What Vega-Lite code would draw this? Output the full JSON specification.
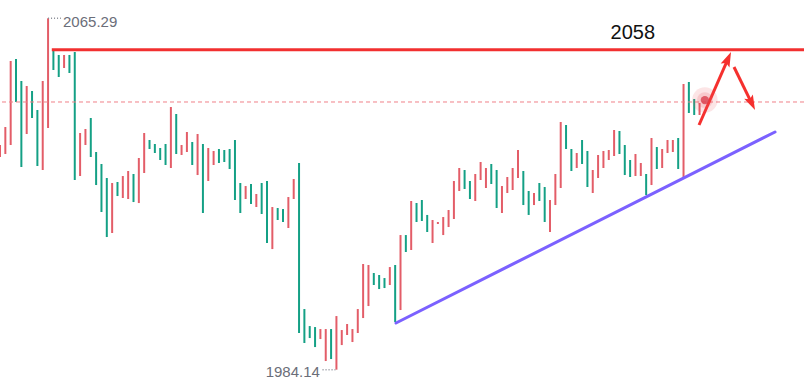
{
  "$schema": "https://vega.github.io/schema/vega-lite/v6.json",
  "width": 804,
  "height": 392,
  "padding": 0,
  "autosize": {"type": "none"},
  "background": "white",
  "config": {"view": {"stroke": null}},
  "datasets": {
    "candles": [
      {"i":1,"hi":2036.02,"lo":2033.25,"d":"up"},
      {"i":2,"hi":2040.18,"lo":2033.95,"d":"up"},
      {"i":3,"hi":2055.43,"lo":2036.02,"d":"up"},
      {"i":4,"hi":2055.89,"lo":2045.96,"d":"down"},
      {"i":5,"hi":2050.81,"lo":2030.94,"d":"down"},
      {"i":6,"hi":2049.65,"lo":2038.57,"d":"up"},
      {"i":7,"hi":2048.50,"lo":2042.26,"d":"down"},
      {"i":8,"hi":2044.11,"lo":2031.17,"d":"down"},
      {"i":9,"hi":2050.81,"lo":2030.25,"d":"up"},
      {"i":10,"hi":2065.29,"lo":2039.95,"d":"up"},
      {"i":11,"hi":2057.74,"lo":2053.35,"d":"down"},
      {"i":12,"hi":2056.82,"lo":2051.73,"d":"down"},
      {"i":13,"hi":2056.82,"lo":2053.81,"d":"up"},
      {"i":14,"hi":2056.82,"lo":2052.66,"d":"down"},
      {"i":15,"hi":2057.51,"lo":2027.94,"d":"down"},
      {"i":16,"hi":2038.80,"lo":2028.86,"d":"up"},
      {"i":17,"hi":2039.72,"lo":2036.02,"d":"up"},
      {"i":18,"hi":2042.26,"lo":2033.25,"d":"down"},
      {"i":19,"hi":2034.41,"lo":2026.78,"d":"down"},
      {"i":20,"hi":2031.64,"lo":2020.55,"d":"down"},
      {"i":21,"hi":2028.40,"lo":2014.77,"d":"down"},
      {"i":22,"hi":2027.25,"lo":2015.70,"d":"up"},
      {"i":23,"hi":2027.48,"lo":2024.24,"d":"down"},
      {"i":24,"hi":2028.86,"lo":2023.78,"d":"up"},
      {"i":25,"hi":2030.02,"lo":2023.55,"d":"up"},
      {"i":26,"hi":2029.33,"lo":2022.85,"d":"down"},
      {"i":27,"hi":2033.02,"lo":2022.62,"d":"up"},
      {"i":28,"hi":2038.80,"lo":2029.56,"d":"up"},
      {"i":29,"hi":2037.18,"lo":2035.10,"d":"down"},
      {"i":30,"hi":2036.26,"lo":2034.18,"d":"down"},
      {"i":31,"hi":2035.33,"lo":2032.56,"d":"down"},
      {"i":32,"hi":2036.26,"lo":2031.40,"d":"down"},
      {"i":33,"hi":2044.80,"lo":2030.71,"d":"up"},
      {"i":34,"hi":2043.19,"lo":2033.95,"d":"down"},
      {"i":35,"hi":2036.02,"lo":2033.72,"d":"up"},
      {"i":36,"hi":2039.03,"lo":2034.41,"d":"up"},
      {"i":37,"hi":2036.72,"lo":2031.40,"d":"down"},
      {"i":38,"hi":2038.57,"lo":2029.09,"d":"up"},
      {"i":39,"hi":2036.26,"lo":2020.32,"d":"down"},
      {"i":40,"hi":2035.33,"lo":2027.71,"d":"up"},
      {"i":41,"hi":2034.64,"lo":2031.40,"d":"up"},
      {"i":42,"hi":2035.10,"lo":2031.87,"d":"down"},
      {"i":43,"hi":2034.87,"lo":2032.10,"d":"down"},
      {"i":44,"hi":2035.10,"lo":2030.48,"d":"down"},
      {"i":45,"hi":2037.18,"lo":2023.32,"d":"down"},
      {"i":46,"hi":2027.25,"lo":2020.32,"d":"down"},
      {"i":47,"hi":2026.55,"lo":2023.55,"d":"up"},
      {"i":48,"hi":2027.02,"lo":2022.40,"d":"down"},
      {"i":49,"hi":2024.71,"lo":2021.70,"d":"up"},
      {"i":50,"hi":2027.25,"lo":2020.09,"d":"down"},
      {"i":51,"hi":2027.71,"lo":2013.39,"d":"down"},
      {"i":52,"hi":2021.70,"lo":2011.99,"d":"up"},
      {"i":53,"hi":2021.47,"lo":2018.70,"d":"down"},
      {"i":54,"hi":2021.24,"lo":2018.24,"d":"down"},
      {"i":55,"hi":2024.01,"lo":2016.85,"d":"up"},
      {"i":56,"hi":2028.17,"lo":2023.55,"d":"up"},
      {"i":57,"hi":2031.87,"lo":1992.60,"d":"down"},
      {"i":58,"hi":1998.14,"lo":1990.29,"d":"down"},
      {"i":59,"hi":1994.21,"lo":1991.44,"d":"down"},
      {"i":60,"hi":1993.98,"lo":1989.36,"d":"down"},
      {"i":61,"hi":1993.52,"lo":1991.21,"d":"up"},
      {"i":62,"hi":1993.52,"lo":1986.13,"d":"up"},
      {"i":63,"hi":1993.52,"lo":1986.59,"d":"down"},
      {"i":64,"hi":1996.52,"lo":1984.14,"d":"up"},
      {"i":65,"hi":1993.29,"lo":1989.82,"d":"up"},
      {"i":66,"hi":1994.68,"lo":1992.14,"d":"up"},
      {"i":67,"hi":1993.52,"lo":1990.52,"d":"up"},
      {"i":68,"hi":1998.14,"lo":1992.60,"d":"up"},
      {"i":69,"hi":2008.54,"lo":1996.06,"d":"up"},
      {"i":70,"hi":2008.31,"lo":1998.83,"d":"up"},
      {"i":71,"hi":2006.46,"lo":2003.69,"d":"down"},
      {"i":72,"hi":2006.00,"lo":2002.76,"d":"down"},
      {"i":73,"hi":2005.30,"lo":2002.99,"d":"down"},
      {"i":74,"hi":2007.84,"lo":2003.69,"d":"up"},
      {"i":75,"hi":2008.31,"lo":1995.14,"d":"down"},
      {"i":76,"hi":2015.23,"lo":1997.91,"d":"up"},
      {"i":77,"hi":2015.23,"lo":2011.31,"d":"down"},
      {"i":78,"hi":2023.09,"lo":2011.77,"d":"up"},
      {"i":79,"hi":2022.63,"lo":2018.24,"d":"down"},
      {"i":80,"hi":2023.32,"lo":2018.47,"d":"down"},
      {"i":81,"hi":2019.87,"lo":2015.93,"d":"down"},
      {"i":82,"hi":2018.70,"lo":2013.39,"d":"up"},
      {"i":83,"hi":2018.24,"lo":2017.78,"d":"up"},
      {"i":84,"hi":2019.39,"lo":2015.23,"d":"up"},
      {"i":85,"hi":2021.01,"lo":2017.08,"d":"up"},
      {"i":86,"hi":2027.71,"lo":2018.93,"d":"up"},
      {"i":87,"hi":2030.71,"lo":2025.40,"d":"up"},
      {"i":88,"hi":2030.25,"lo":2025.86,"d":"down"},
      {"i":89,"hi":2027.71,"lo":2023.55,"d":"down"},
      {"i":90,"hi":2029.33,"lo":2023.09,"d":"up"},
      {"i":91,"hi":2032.10,"lo":2027.94,"d":"up"},
      {"i":92,"hi":2030.71,"lo":2026.09,"d":"up"},
      {"i":93,"hi":2031.64,"lo":2027.02,"d":"down"},
      {"i":94,"hi":2030.25,"lo":2021.47,"d":"down"},
      {"i":95,"hi":2026.55,"lo":2020.32,"d":"up"},
      {"i":96,"hi":2028.63,"lo":2024.94,"d":"up"},
      {"i":97,"hi":2030.71,"lo":2025.63,"d":"up"},
      {"i":98,"hi":2034.87,"lo":2028.40,"d":"up"},
      {"i":99,"hi":2030.02,"lo":2022.16,"d":"down"},
      {"i":100,"hi":2025.40,"lo":2019.87,"d":"down"},
      {"i":101,"hi":2024.94,"lo":2022.16,"d":"up"},
      {"i":102,"hi":2027.25,"lo":2023.09,"d":"down"},
      {"i":103,"hi":2026.32,"lo":2018.24,"d":"down"},
      {"i":104,"hi":2023.32,"lo":2015.93,"d":"up"},
      {"i":105,"hi":2029.33,"lo":2022.16,"d":"up"},
      {"i":106,"hi":2041.34,"lo":2026.09,"d":"up"},
      {"i":107,"hi":2040.65,"lo":2035.10,"d":"down"},
      {"i":108,"hi":2035.10,"lo":2030.02,"d":"down"},
      {"i":109,"hi":2034.18,"lo":2030.71,"d":"up"},
      {"i":110,"hi":2037.18,"lo":2031.64,"d":"down"},
      {"i":111,"hi":2034.64,"lo":2026.32,"d":"down"},
      {"i":112,"hi":2030.25,"lo":2024.94,"d":"up"},
      {"i":113,"hi":2033.72,"lo":2028.40,"d":"up"},
      {"i":114,"hi":2034.64,"lo":2030.71,"d":"up"},
      {"i":115,"hi":2034.87,"lo":2032.56,"d":"up"},
      {"i":116,"hi":2039.49,"lo":2033.48,"d":"up"},
      {"i":117,"hi":2039.26,"lo":2033.95,"d":"down"},
      {"i":118,"hi":2036.02,"lo":2029.09,"d":"down"},
      {"i":119,"hi":2032.56,"lo":2028.63,"d":"down"},
      {"i":120,"hi":2033.95,"lo":2028.86,"d":"up"},
      {"i":121,"hi":2031.87,"lo":2028.86,"d":"up"},
      {"i":122,"hi":2029.33,"lo":2024.47,"d":"down"},
      {"i":123,"hi":2037.64,"lo":2026.78,"d":"up"},
      {"i":124,"hi":2035.56,"lo":2030.48,"d":"down"},
      {"i":125,"hi":2035.10,"lo":2030.71,"d":"up"},
      {"i":126,"hi":2037.18,"lo":2034.18,"d":"up"},
      {"i":127,"hi":2037.18,"lo":2034.41,"d":"up"},
      {"i":128,"hi":2037.64,"lo":2030.48,"d":"down"},
      {"i":129,"hi":2050.12,"lo":2028.40,"d":"up"},
      {"i":130,"hi":2050.58,"lo":2043.42,"d":"down"},
      {"i":131,"hi":2046.65,"lo":2042.96,"d":"down"},
      {"i":132,"hi":2045.73,"lo":2042.96,"d":"up"}
    ]
  },
  "layer": [
    {
      "data": {"name": "candles"},
      "mark": {"type": "rule", "strokeWidth": 2},
      "encoding": {
        "x": {"field": "i", "type": "quantitative", "scale": {"domain": [1, 151.56], "nice": false, "zero": false},
              "axis": {"values": [24.91, 70.9, 117.14], "grid": true, "gridColor": "#edeff3", "gridWidth": 1.5, "labels": false, "ticks": false, "domain": false, "title": null}},
        "y": {"field": "hi", "type": "quantitative", "scale": {"domain": [1978.98, 2069.515], "nice": false, "zero": false},
              "axis": {"values": [2000, 2025, 2050], "grid": true, "gridColor": "#edeff3", "gridWidth": 1.5, "labels": false, "ticks": false, "domain": false, "title": null}},
        "y2": {"field": "lo"},
        "color": {"field": "d", "type": "nominal", "scale": {"domain": ["up", "down"], "range": ["#e35d68", "#14a085"]}, "legend": null}
      }
    },
    {
      "data": {"values": [{"p": 2045.96}]},
      "mark": {"type": "rule", "strokeDash": [4, 3], "strokeWidth": 1, "color": "#f08088"},
      "encoding": {
        "y": {"field": "p", "type": "quantitative", "scale": {"domain": [1978.98, 2069.515], "nice": false, "zero": false}, "axis": null}
      }
    },
    {
      "data": {"values": [{"i0": 10.7, "i1": 151.56, "p": 2058}]},
      "mark": {"type": "rule", "strokeWidth": 3, "color": "#f23030"},
      "encoding": {
        "x": {"field": "i0", "type": "quantitative", "scale": {"domain": [1, 151.56], "nice": false, "zero": false}, "axis": null},
        "x2": {"field": "i1"},
        "y": {"field": "p", "type": "quantitative", "scale": {"domain": [1978.98, 2069.515], "nice": false, "zero": false}, "axis": null}
      }
    },
    {
      "data": {"values": [{"i0": 75.16, "p0": 1994.92, "i1": 146.13, "p1": 2039.03}]},
      "mark": {"type": "rule", "strokeWidth": 3, "color": "#7b61ff", "strokeCap": "round"},
      "encoding": {
        "x": {"field": "i0", "type": "quantitative", "scale": {"domain": [1, 151.56], "nice": false, "zero": false}, "axis": null},
        "x2": {"field": "i1"},
        "y": {"field": "p0", "type": "quantitative", "scale": {"domain": [1978.98, 2069.515], "nice": false, "zero": false}, "axis": null},
        "y2": {"field": "p1"}
      }
    },
    {
      "data": {"values": [{"i0": 131.9, "p0": 2040.65, "i1": 137.29, "p1": 2055.82}, {"i0": 138.45, "p0": 2054.04, "i1": 141.73, "p1": 2045.77}]},
      "mark": {"type": "rule", "strokeWidth": 3, "color": "#f5302e"},
      "encoding": {
        "x": {"field": "i0", "type": "quantitative", "scale": {"domain": [1, 151.56], "nice": false, "zero": false}, "axis": null},
        "x2": {"field": "i1"},
        "y": {"field": "p0", "type": "quantitative", "scale": {"domain": [1978.98, 2069.515], "nice": false, "zero": false}, "axis": null},
        "y2": {"field": "p1"}
      }
    },
    {
      "data": {"values": [{"i": 137.29, "p": 2055.82}]},
      "mark": {"type": "point", "shape": "M0,-1L-0.6,0.85L0,0.5L0.6,0.85Z", "filled": true, "size": 256, "angle": 23.7, "color": "#f5302e", "opacity": 1},
      "encoding": {
        "x": {"field": "i", "type": "quantitative", "scale": {"domain": [1, 151.56], "nice": false, "zero": false}, "axis": null},
        "y": {"field": "p", "type": "quantitative", "scale": {"domain": [1978.98, 2069.515], "nice": false, "zero": false}, "axis": null}
      }
    },
    {
      "data": {"values": [{"i": 141.73, "p": 2045.77}]},
      "mark": {"type": "point", "shape": "M0,-1L-0.6,0.85L0,0.5L0.6,0.85Z", "filled": true, "size": 256, "angle": 154, "color": "#f5302e", "opacity": 1},
      "encoding": {
        "x": {"field": "i", "type": "quantitative", "scale": {"domain": [1, 151.56], "nice": false, "zero": false}, "axis": null},
        "y": {"field": "p", "type": "quantitative", "scale": {"domain": [1978.98, 2069.515], "nice": false, "zero": false}, "axis": null}
      }
    },
    {
      "data": {"values": [{"i": 133.0, "p": 2046.4}]},
      "mark": {"type": "point", "shape": "circle", "filled": true, "size": 650, "color": "#e8505a", "opacity": 0.15},
      "encoding": {
        "x": {"field": "i", "type": "quantitative", "scale": {"domain": [1, 151.56], "nice": false, "zero": false}, "axis": null},
        "y": {"field": "p", "type": "quantitative", "scale": {"domain": [1978.98, 2069.515], "nice": false, "zero": false}, "axis": null}
      }
    },
    {
      "data": {"values": [{"i": 133.0, "p": 2046.4}]},
      "mark": {"type": "point", "shape": "circle", "filled": true, "size": 250, "color": "#e8505a", "opacity": 0.18},
      "encoding": {
        "x": {"field": "i", "type": "quantitative", "scale": {"domain": [1, 151.56], "nice": false, "zero": false}, "axis": null},
        "y": {"field": "p", "type": "quantitative", "scale": {"domain": [1978.98, 2069.515], "nice": false, "zero": false}, "axis": null}
      }
    },
    {
      "data": {"values": [{"i": 133.0, "p": 2046.4}]},
      "mark": {"type": "point", "shape": "circle", "filled": true, "size": 70, "color": "#d9404d", "opacity": 0.8},
      "encoding": {
        "x": {"field": "i", "type": "quantitative", "scale": {"domain": [1, 151.56], "nice": false, "zero": false}, "axis": null},
        "y": {"field": "p", "type": "quantitative", "scale": {"domain": [1978.98, 2069.515], "nice": false, "zero": false}, "axis": null}
      }
    },
    {
      "data": {"values": [{"i0": 10.0, "i1": 12.4, "p": 2065.29}, {"i0": 61.4, "i1": 63.8, "p": 1984.14}]},
      "mark": {"type": "rule", "strokeWidth": 1.5, "strokeDash": [1, 2], "color": "#8a8d96"},
      "encoding": {
        "x": {"field": "i0", "type": "quantitative", "scale": {"domain": [1, 151.56], "nice": false, "zero": false}, "axis": null},
        "x2": {"field": "i1"},
        "y": {"field": "p", "type": "quantitative", "scale": {"domain": [1978.98, 2069.515], "nice": false, "zero": false}, "axis": null}
      }
    },
    {
      "data": {"values": [{"i": 12.8, "p": 2064.44, "t": "2065.29"}]},
      "mark": {"type": "text", "align": "left", "baseline": "middle", "fontSize": 15, "font": "Liberation Sans", "color": "#6b6e79"},
      "encoding": {
        "x": {"field": "i", "type": "quantitative", "scale": {"domain": [1, 151.56], "nice": false, "zero": false}, "axis": null},
        "y": {"field": "p", "type": "quantitative", "scale": {"domain": [1978.98, 2069.515], "nice": false, "zero": false}, "axis": null},
        "text": {"field": "t"}
      }
    },
    {
      "data": {"values": [{"i": 60.9, "p": 1983.59, "t": "1984.14"}]},
      "mark": {"type": "text", "align": "right", "baseline": "middle", "fontSize": 15, "font": "Liberation Sans", "color": "#6b6e79"},
      "encoding": {
        "x": {"field": "i", "type": "quantitative", "scale": {"domain": [1, 151.56], "nice": false, "zero": false}, "axis": null},
        "y": {"field": "p", "type": "quantitative", "scale": {"domain": [1978.98, 2069.515], "nice": false, "zero": false}, "axis": null},
        "text": {"field": "t"}
      }
    },
    {
      "data": {"values": [{"i": 119.5, "p": 2061.9, "t": "2058"}]},
      "mark": {"type": "text", "align": "center", "baseline": "middle", "fontSize": 20, "font": "Liberation Sans", "color": "#111111"},
      "encoding": {
        "x": {"field": "i", "type": "quantitative", "scale": {"domain": [1, 151.56], "nice": false, "zero": false}, "axis": null},
        "y": {"field": "p", "type": "quantitative", "scale": {"domain": [1978.98, 2069.515], "nice": false, "zero": false}, "axis": null},
        "text": {"field": "t"}
      }
    }
  ]
}
